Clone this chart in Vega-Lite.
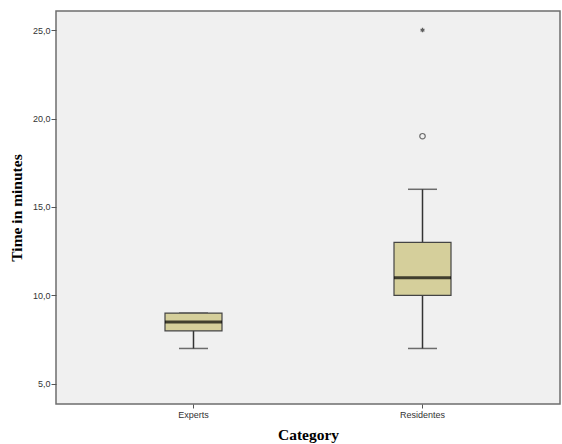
{
  "$schema": "https://vega.github.io/schema/vega-lite/v6.json",
  "width": 504,
  "height": 393,
  "autosize": {"type": "none"},
  "padding": {"left": 56, "top": 11, "right": 2, "bottom": 40},
  "background": "white",
  "config": {
    "view": {"fill": "#f0f0f0", "stroke": "#6e6e6e", "strokeWidth": 1.5},
    "axis": {
      "labelFont": "Liberation Sans",
      "labelFontSize": 9,
      "labelColor": "#333333",
      "titleFont": "Liberation Serif",
      "titleFontSize": 15.5,
      "titleFontWeight": "bold",
      "titleColor": "#000000",
      "tickColor": "#555555",
      "domain": false,
      "grid": false
    }
  },
  "datasets": {
    "boxes": [
      {"category": "Experts", "min": 7, "q1": 8, "median": 8.5, "q3": 9, "max": 9},
      {"category": "Residentes", "min": 7, "q1": 10, "median": 11, "q3": 13, "max": 16}
    ],
    "outliers": [
      {"category": "Residentes", "value": 19, "kind": "outlier"},
      {"category": "Residentes", "value": 25, "kind": "extreme"}
    ]
  },
  "encoding": {
    "x": {
      "field": "category",
      "type": "nominal",
      "scale": {"type": "band", "domain": ["Experts", "Residentes"], "paddingInner": 0.75, "paddingOuter": 0.4754},
      "axis": {"title": "Category", "labelAngle": 0, "tickSize": 4, "labelPadding": 2, "titlePadding": 8}
    }
  },
  "layer": [
    {
      "data": {"name": "boxes"},
      "mark": {"type": "rule", "color": "#333333", "strokeWidth": 1.5},
      "encoding": {
        "y": {
          "field": "min",
          "type": "quantitative",
          "scale": {"domain": [3.86, 26.08], "nice": false, "zero": false},
          "axis": {"title": "Time in minutes", "values": [5, 10, 15, 20, 25], "labelExpr": "replace(format(datum.value, '.1f'), '.', ',')", "tickSize": 5, "labelPadding": 1, "titlePadding": 8}
        },
        "y2": {"field": "q1"}
      }
    },
    {
      "data": {"name": "boxes"},
      "mark": {"type": "rule", "color": "#333333", "strokeWidth": 1.5},
      "encoding": {
        "y": {"field": "q3", "type": "quantitative"},
        "y2": {"field": "max"}
      }
    },
    {
      "data": {"name": "boxes"},
      "mark": {"type": "tick", "color": "#333333", "thickness": 1.5, "size": 29},
      "encoding": {"y": {"field": "min", "type": "quantitative"}}
    },
    {
      "data": {"name": "boxes"},
      "mark": {"type": "tick", "color": "#333333", "thickness": 1.5, "size": 29},
      "encoding": {"y": {"field": "max", "type": "quantitative"}}
    },
    {
      "data": {"name": "boxes"},
      "mark": {"type": "bar", "fill": "#d5cf9b", "stroke": "#444444", "strokeWidth": 1.2, "width": 57},
      "encoding": {
        "y": {"field": "q1", "type": "quantitative"},
        "y2": {"field": "q3"}
      }
    },
    {
      "data": {"name": "boxes"},
      "mark": {"type": "tick", "color": "#000000", "thickness": 3, "size": 57},
      "encoding": {"y": {"field": "median", "type": "quantitative"}}
    },
    {
      "data": {"name": "outliers"},
      "transform": [{"filter": "datum.kind == 'outlier'"}],
      "mark": {"type": "point", "shape": "circle", "filled": false, "color": "#333333", "size": 30, "strokeWidth": 1.2},
      "encoding": {"y": {"field": "value", "type": "quantitative"}}
    },
    {
      "data": {"name": "outliers"},
      "transform": [{"filter": "datum.kind == 'extreme'"}],
      "mark": {"type": "point", "shape": "M0,-1L0,1M-0.87,-0.5L0.87,0.5M-0.87,0.5L0.87,-0.5", "filled": false, "color": "#222222", "size": 20, "strokeWidth": 1.3},
      "encoding": {"y": {"field": "value", "type": "quantitative"}}
    }
  ]
}
